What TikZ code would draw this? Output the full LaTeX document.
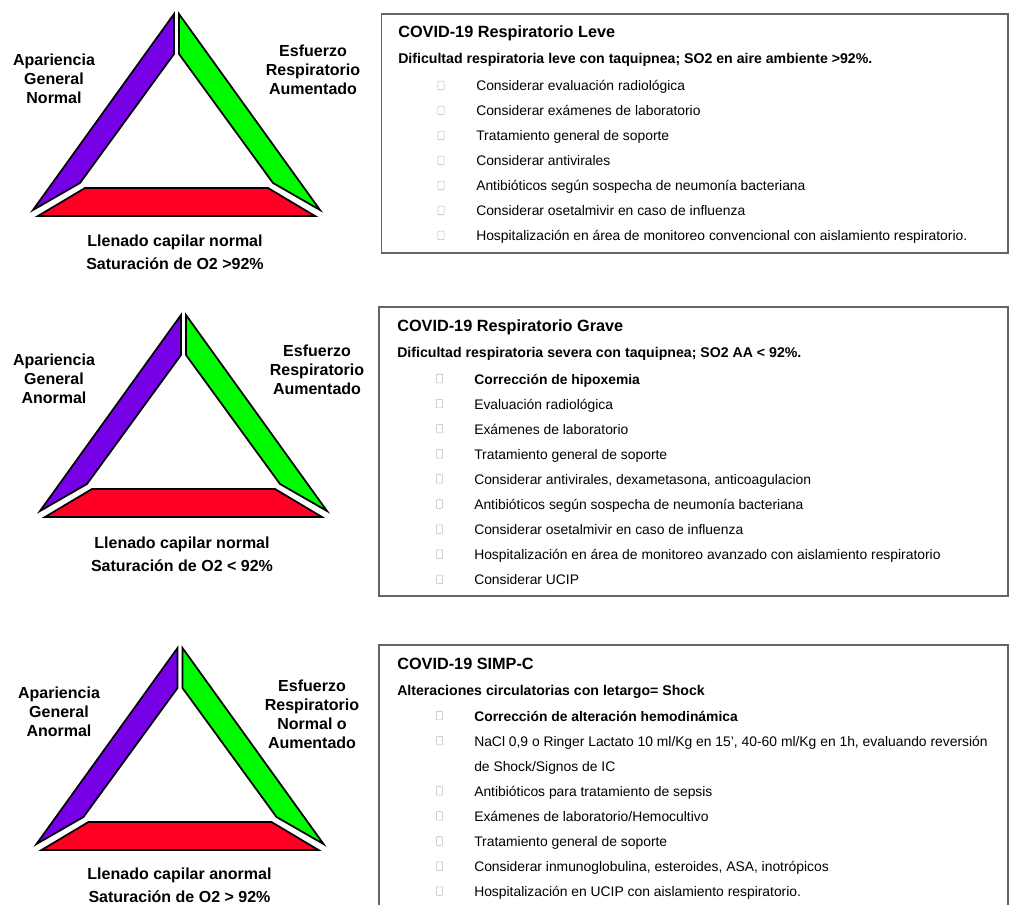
\documentclass[tikz,border=0pt]{standalone}
\usepackage{fontspec}
\setmainfont{Liberation Sans}
\usetikzlibrary{positioning}
\definecolor{vio}{RGB}{118,0,230}
\definecolor{grn}{RGB}{0,250,0}
\definecolor{rd}{RGB}{255,0,36}
\definecolor{boxgray}{RGB}{100,100,100}

\begin{document}
\begin{tikzpicture}[x=0.75pt,y=-0.75pt,
		side/.style={draw=black,line width=1.3pt},
		lbl/.style={font=\bfseries\fontsize{12}{14.25}\selectfont,align=center},
		botlbl/.style={font=\bfseries\fontsize{12}{17.25}\selectfont,align=center},
		panel/.style={draw=boxgray,line width=1pt},
		ttl/.style={anchor=base west,inner sep=0,font=\bfseries\fontsize{12.2}{14}\selectfont},
		sub/.style={anchor=base west,inner sep=0,font=\bfseries\fontsize{10.6}{12}\selectfont},
		itm/.style={anchor=base west,inner sep=0,font=\fontsize{10.4}{12}\selectfont},
		bul/.style={draw=gray!55,line width=0.4pt,rounded corners=0.6pt,inner sep=0,
			minimum width=4.7pt,minimum height=6.4pt},
		triad/.pic={
			\draw[side,fill=vio] (-2.5,0) -- (-2.5,40) -- (-96.5,169) -- (-143.5,196) -- cycle;
			\draw[side,fill=grn] (2.5,0) -- (2.5,40) -- (96.5,169) -- (143.5,196) -- cycle;
			\draw[side,fill=rd] (-91.5,174) -- (91.5,174) -- (138.5,202) -- (-138.5,202) -- cycle;
		}]
	\useasboundingbox (0,0) rectangle (1009,905);

	% triangulo 1
	\pic at (176.5,14) {triad};
	\node[lbl] (ag1) at (54,79) {Apariencia\\General\\Normal};
	\node[lbl] (er1) at (313,70) {Esfuerzo\\Respiratorio\\Aumentado};
	\node[botlbl] (lc1) at (175,252) {Llenado capilar normal\\Saturación de O2 >92\%};

	% triangulo 2
	\pic at (183.5,315) {triad};
	\node[lbl] (ag2) at (54,379) {Apariencia\\General\\Anormal};
	\node[lbl] (er2) at (317,370) {Esfuerzo\\Respiratorio\\Aumentado};
	\node[botlbl] (lc2) at (182,554) {Llenado capilar normal\\Saturación de O2 < 92\%};

	% triangulo 3
	\pic at (180,648) {triad};
	\node[lbl] (ag3) at (59,712) {Apariencia\\General\\Anormal};
	\node[lbl] (er3) at (312,714) {Esfuerzo\\Respiratorio\\Normal o\\Aumentado};
	\node[botlbl] (lc3) at (179.5,885) {Llenado capilar anormal\\Saturación de O2 > 92\%};

	% leve
	\draw[panel] (381.5,14) rectangle (1008,253);
	\node[ttl] (tl) at (398,38) {COVID-19 Respiratorio Leve};
	\node[sub] (sl) at (398,64) {Dificultad respiratoria leve con taquipnea; SO2 en aire ambiente >92\%.};
	\foreach \i/\t in {0/{Considerar evaluación radiológica},
			1/{Considerar exámenes de laboratorio},
			2/{Tratamiento general de soporte},
			3/{Considerar antivirales},
			4/{Antibióticos según sospecha de neumonía bacteriana},
			5/{Considerar osetalmivir en caso de influenza},
			6/{Hospitalización en área de monitoreo convencional con aislamiento respiratorio.}}{
		\node[bul] (bl\i) at (441,{91+25*\i-5.5}) {};
		\node[itm] (il\i) at (476,{91+25*\i}) {\t};
	}

	% grave
	\draw[panel] (379,307) rectangle (1008,596);
	\node[ttl] (tg) at (397,331) {COVID-19 Respiratorio Grave};
	\node[sub] (sg) at (397,357) {Dificultad respiratoria severa con taquipnea; SO2 AA < 92\%.};
	\foreach \i/\t in {0/{\textbf{Corrección de hipoxemia}},
			1/{Evaluación radiológica},
			2/{Exámenes de laboratorio},
			3/{Tratamiento general de soporte},
			4/{Considerar antivirales, dexametasona, anticoagulacion},
			5/{Antibióticos según sospecha de neumonía bacteriana},
			6/{Considerar osetalmivir en caso de influenza},
			7/{Hospitalización en área de monitoreo avanzado con aislamiento respiratorio},
			8/{Considerar UCIP}}{
		\node[bul] (bg\i) at (439.5,{384+25.1*\i-5.5}) {};
		\node[itm] (ig\i) at (474,{384+25.1*\i}) {\t};
	}

	% simp-c
	\draw[panel] (379,906) -- (379,645) -- (1008,645) -- (1008,906);
	\node[ttl] (ts) at (397,669) {COVID-19 SIMP-C};
	\node[sub] (ss) at (397,695) {Alteraciones circulatorias con letargo= Shock};
	\foreach \i/\t in {0/{\textbf{Corrección de alteración hemodinámica}},
			1/{NaCl 0,9 o Ringer Lactato 10 ml/Kg en 15’, 40-60 ml/Kg en 1h, evaluando reversión},
			3/{Antibióticos para tratamiento de sepsis},
			4/{Exámenes de laboratorio/Hemocultivo},
			5/{Tratamiento general de soporte},
			6/{Considerar inmunoglobulina, esteroides, ASA, inotrópicos},
			7/{Hospitalización en UCIP con aislamiento respiratorio.}}{
		\node[bul] (bs\i) at (439.5,{721+25.1*\i-5.5}) {};
		\node[itm] (is\i) at (474,{721+25.1*\i}) {\t};
	}
	\node[itm] (is2) at (474,{721+25.1*2}) {de Shock/Signos de IC};
\end{tikzpicture}
\end{document}
